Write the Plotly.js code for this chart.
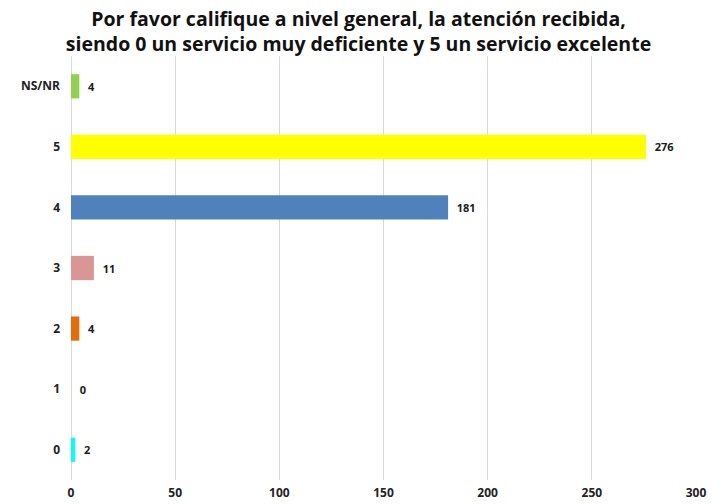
<!DOCTYPE html>
<html><head><meta charset="utf-8">
<script src="https://cdn.plot.ly/plotly-3.0.1.min.js"></script>
<style>html,body{margin:0;padding:0;background:#fff}#c{width:717px;height:504px}</style>
</head><body><div id="c"></div>
<script>
const categories = ["0","1","2","3","4","5","NS/NR"];
const values = [2,0,4,11,181,276,4];
const barColors = ["#00FFFF","#A0A0A0","#E46C0A","#D99694","#4F81BD","#FFFF00","#92D050"];
const xTicks = [0,50,100,150,200,250,300];

const trace = {
  type:'bar', orientation:'h',
  y: categories, x: values,
  marker:{color: barColors},
  text: values.map(v => '  ' + v),
  textposition:'outside', cliponaxis:false,
  textfont:{family:'Open Sans, sans-serif', size:11, color:'#1a1a1a', weight:'bold'},
  hoverinfo:'none'
};
const layout = {
  width:717, height:504,
  margin:{l:71, r:21, t:56, b:24},
  paper_bgcolor:'#fff', plot_bgcolor:'#fff',
  showlegend:false,
  bargap:0.6,
  title:{text:'Por favor califique a nivel general, la atención recibida,<br>siendo 0 un servicio muy deficiente y 5 un servicio excelente',
    font:{family:'Open Sans, sans-serif', size:19.5, color:'#111', weight:'bold'},
    x:0.5, xanchor:'center', yref:'container', y:0.949, yanchor:'middle'},
  xaxis:{range:[0,300], tickvals:xTicks, showgrid:true, gridcolor:'#d9d9d9', gridwidth:1,
    zeroline:true, zerolinecolor:'#d9d9d9', showline:false, ticks:'', ticklabelstandoff:4,
    tickfont:{family:'Open Sans, sans-serif', size:12, color:'#222', weight:'bold'}},
  yaxis:{type:'category', categoryarray:categories, range:[-0.5,6.5], showgrid:false,
    zeroline:false, showline:false, ticks:'', ticklabelstandoff:10,
    tickfont:{family:'Open Sans, sans-serif', size:12, color:'#222', weight:'bold'}}
};
Plotly.newPlot('c',[trace],layout,{displayModeBar:false, staticPlot:true});
</script></body></html>
